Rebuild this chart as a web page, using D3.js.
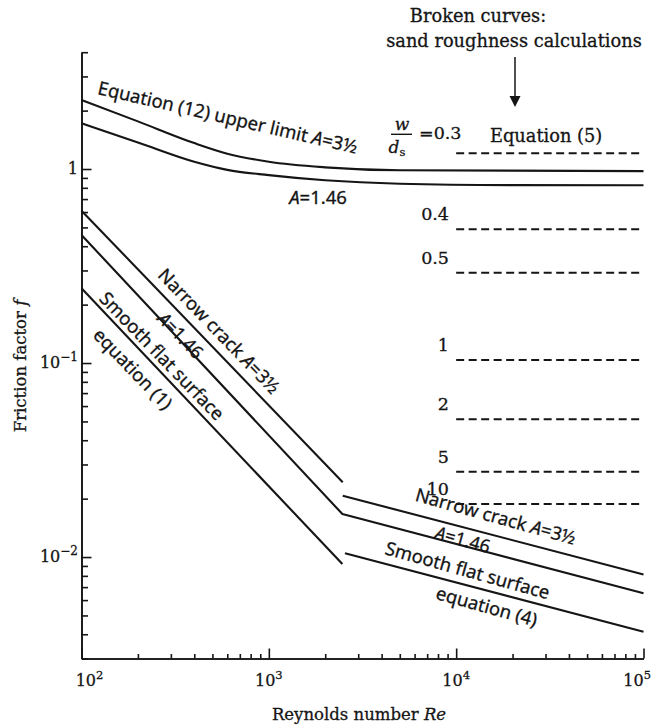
<!DOCTYPE html>
<html><head><meta charset="utf-8">
<script src="https://cdn.jsdelivr.net/npm/d3@7"></script>
<style>body{margin:0;background:#fff} text{stroke:#151515;stroke-width:0.3px}</style>
</head><body>
<svg id="c" width="652" height="726"></svg>
<script>
// ---- data ----
const reDomain = [100, 100000];
const fDomain = [0.003, 4];
const reTickValues = [100, 1000, 10000, 100000];
const reTickExps = ["2", "3", "4", "5"];
const fTickValues = [1, 0.1, 0.01];
const fTickBases = ["1", "10", "10"];
const fTickExps = ["", "−1", "−2"];

const upperRe = [100, 200, 400, 600, 1000, 2000, 5000, 100000];
const upperF  = [2.27, 1.76, 1.36, 1.2, 1.09, 1.02, 0.985, 0.975];
const lowerRe = [100, 200, 400, 600, 1000, 2000, 5000, 20000, 100000];
const lowerF  = [1.72, 1.37, 1.09, 0.99, 0.93, 0.875, 0.84, 0.826, 0.824];
const crackLamRe = [100, 2480];  const crackLamF = [0.610, 0.0243];
const crackTurbRe = [2480, 100000]; const crackTurbF = [0.0207, 0.00814];
const a146Re = [100, 2470, 100000]; const a146F = [0.457, 0.01666, 0.0065];
const smoothLamRe = [100, 2470]; const smoothLamF = [0.243, 0.0092];
const smoothTurbRe = [2550, 100000]; const smoothTurbF = [0.01045, 0.00412];
const sandRe = [10000, 100000];
const sandRatio = ["0.3", "0.4", "0.5", "1", "2", "5", "10"];
const sandF = [1.205, 0.489, 0.292, 0.1036, 0.0513, 0.0275, 0.01876];

// ---- setup ----
const svg = d3.select("#c");
const x = d3.scaleLog().domain(reDomain).range([81.5, 643.5]);
const y = d3.scaleLog().domain(fDomain).range([658.5, 52.2]);
const SERIF = "'DejaVu Serif', serif";
const SANS = "'Noto Sans', sans-serif";
const INK = "#151515";

// minor tick positions
const xMinor = [];
for (const d of [100, 1000, 10000]) for (let m = 2; m <= 9; m++) xMinor.push(d * m);
const yMinor = [];
for (const d of [0.001, 0.01, 0.1, 1]) for (let m = 2; m <= 9; m++) {
  const v = d * m; if (v >= fDomain[0] - 1e-9 && v <= fDomain[1] + 1e-9) yMinor.push(v);
}

function styleAxis(g) {
  g.selectAll("path,line").attr("stroke", INK).attr("stroke-width", 1.6);
  g.selectAll("text").remove();
}
// x axis
svg.append("g").attr("transform", `translate(0,${y(fDomain[0])})`)
  .call(d3.axisBottom(x).tickValues(xMinor).tickSizeInner(-4.5).tickSizeOuter(0).tickFormat(""))
  .call(styleAxis);
svg.append("g").attr("transform", `translate(0,${y(fDomain[0])})`)
  .call(d3.axisBottom(x).tickValues(reTickValues).tickSizeInner(-10).tickSizeOuter(0).tickFormat(""))
  .call(styleAxis);
// y axis
svg.append("g").attr("transform", `translate(${x(reDomain[0])},0)`)
  .call(d3.axisLeft(y).tickValues(yMinor).tickSizeInner(-6.5).tickSizeOuter(0).tickFormat(""))
  .call(styleAxis);
svg.append("g").attr("transform", `translate(${x(reDomain[0])},0)`)
  .call(d3.axisLeft(y).tickValues(fTickValues).tickSizeInner(-10).tickSizeOuter(0).tickFormat(""))
  .call(styleAxis);

// x tick labels
reTickValues.forEach((v, i) => {
  const last = i === reTickValues.length - 1;
  const t = svg.append("text").attr("x", last ? 651 : x(v) + (i === 0 ? 8 : 0)).attr("y", 686)
    .attr("text-anchor", last ? "end" : "middle").attr("font-family", SERIF).attr("font-size", 16).attr("fill", INK);
  t.append("tspan").text("10");
  t.append("tspan").attr("dy", -7).attr("font-size", 11.5).text(reTickExps[i]);
});
// y tick labels
fTickValues.forEach((v, i) => {
  const t = svg.append("text").attr("x", 78).attr("y", y(v) + 5)
    .attr("text-anchor", "end").attr("font-family", SERIF).attr("font-size", 16).attr("fill", INK);
  t.append("tspan").text(fTickBases[i]);
  if (fTickExps[i]) t.append("tspan").attr("dy", -7).attr("font-size", 12).text(fTickExps[i]);
});

// axis titles
{
  const t = svg.append("text").attr("x", 359).attr("y", 720).attr("text-anchor", "middle")
    .attr("font-family", SERIF).attr("font-size", 16.5).attr("fill", INK);
  t.append("tspan").text("Reynolds number ");
  t.append("tspan").attr("font-style", "italic").text("Re");
}
{
  const t = svg.append("text").attr("transform", "translate(26,366) rotate(-90)").attr("text-anchor", "middle")
    .attr("font-family", SERIF).attr("font-size", 16.5).attr("fill", INK);
  t.append("tspan").text("Friction factor ");
  t.append("tspan").attr("font-style", "italic").text("f");
}

// ---- curves ----
const zip = (a, b) => a.map((v, i) => [v, b[i]]);
const lineLin = d3.line().x(d => x(d[0])).y(d => y(d[1]));
const lineSmooth = d3.line().x(d => x(d[0])).y(d => y(d[1])).curve(d3.curveMonotoneX);
const plot = () => svg.append("path").attr("fill", "none").attr("stroke", INK).attr("stroke-width", 2.1)
  .attr("stroke-linejoin", "round");

plot().attr("d", lineSmooth(zip(upperRe, upperF)));
plot().attr("d", lineSmooth(zip(lowerRe, lowerF)));
plot().attr("d", lineLin(zip(crackLamRe, crackLamF)));
plot().attr("d", lineLin(zip(crackTurbRe, crackTurbF)));
plot().attr("d", lineLin(zip(a146Re, a146F)));
plot().attr("d", lineLin(zip(smoothLamRe, smoothLamF)));
plot().attr("d", lineLin(zip(smoothTurbRe, smoothTurbF)));

// sand roughness dashed lines
sandF.forEach((f, i) => {
  svg.append("path").attr("fill", "none").attr("stroke", INK).attr("stroke-width", 2)
    .attr("stroke-dasharray", "8,4.5")
    .attr("d", lineLin([[sandRe[0], f], [sandRe[1], f]]));
  if (i === 0) {
    const yy = y(f);
    svg.append("text").attr("x", 419).attr("y", yy - 14).attr("font-family", SERIF).attr("font-size", 17.5)
      .attr("fill", INK).text("=" + sandRatio[i]);
    svg.append("text").attr("x", 402).attr("y", yy - 23).attr("text-anchor", "middle")
      .attr("font-family", SERIF).attr("font-style", "italic").attr("font-size", 17).attr("fill", INK).text("w");
    svg.append("line").attr("x1", 391).attr("x2", 412).attr("y1", yy - 19).attr("y2", yy - 19)
      .attr("stroke", INK).attr("stroke-width", 1.4);
    const d = svg.append("text").attr("x", 397).attr("y", yy).attr("text-anchor", "middle")
      .attr("font-family", SERIF).attr("font-size", 17).attr("fill", INK);
    d.append("tspan").attr("font-style", "italic").text("d");
    d.append("tspan").attr("dy", 3).attr("font-size", 11.5).text("s");
  } else {
    svg.append("text").attr("x", 449).attr("y", y(f) - 9).attr("text-anchor", "end")
      .attr("font-family", SERIF).attr("font-size", 17.5).attr("fill", INK).text(sandRatio[i]);
  }
});

svg.append("text").attr("x", 490).attr("y", 141.7).attr("font-family", SERIF).attr("font-size", 17.8)
  .attr("fill", INK).text("Equation (5)");

// header & arrow
svg.append("text").attr("x", 478).attr("y", 22).attr("text-anchor", "middle").attr("font-family", SERIF)
  .attr("font-size", 17.8).attr("fill", INK).text("Broken curves:");
svg.append("text").attr("x", 514).attr("y", 47).attr("text-anchor", "middle").attr("font-family", SERIF)
  .attr("font-size", 17.8).attr("fill", INK).text("sand roughness calculations");
svg.append("line").attr("x1", 515).attr("x2", 515).attr("y1", 57).attr("y2", 97)
  .attr("stroke", INK).attr("stroke-width", 1.5);
svg.append("path").attr("d", "M509.5,96 L520.5,96 L515,107 Z").attr("fill", INK);

// rotated curve labels
function label(parts, cx, cy, angle, size, family) {
  const t = svg.append("text").attr("transform", `translate(${cx},${cy}) rotate(${angle})`)
    .attr("text-anchor", "middle").attr("dominant-baseline", "central")
    .attr("font-family", family || SANS).attr("font-size", size).attr("fill", INK);
  parts.forEach(p => {
    const s = t.append("tspan").text(p.t);
    if (p.i) s.attr("font-style", "italic");
  });
  return t;
}
label([{t: "Equation (12) upper limit "}, {t: "A", i: 1}, {t: "=3½"}], 228, 116, 13, 18.5);
label([{t: "A", i: 1}, {t: "=1.46"}], 318, 196, 0, 18.5);
label([{t: "Narrow crack "}, {t: "A", i: 1}, {t: "=3½"}], 220, 330, 46, 18.5);
label([{t: "A", i: 1}, {t: "=1.46"}], 181, 335, 46, 18);
label([{t: "Smooth flat surface"}], 163, 355, 46, 18.5);
label([{t: "equation (1)"}], 134, 368, 46, 18.5);
label([{t: "Narrow crack "}, {t: "A", i: 1}, {t: "=3½"}], 496, 515, 15.5, 18.5);
label([{t: "A", i: 1}, {t: "=1.46"}], 463, 539, 15.5, 18);
label([{t: "Smooth flat surface"}], 468, 569, 15.5, 18.5);
label([{t: "equation (4)"}], 487, 605, 15.5, 18.5);
</script>
</body></html>
